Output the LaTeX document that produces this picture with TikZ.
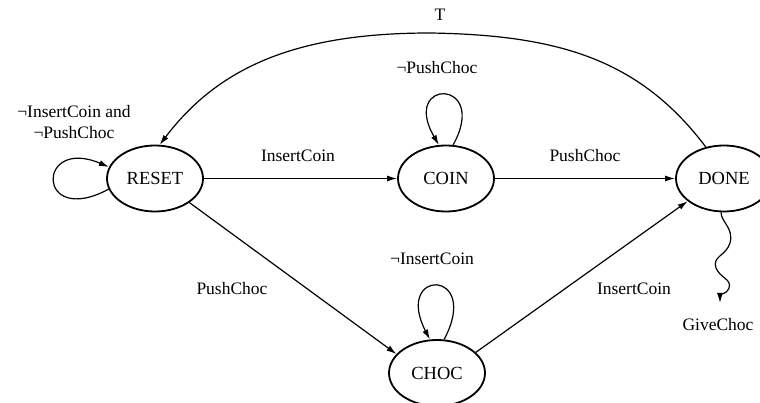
\documentclass[tikz,border=0pt]{standalone}
\usepackage{fontspec}
\setmainfont{Liberation Serif}
\usetikzlibrary{arrows.meta,shapes.geometric}
\tikzset{
  state/.style={draw, ellipse, line width=1.8pt, minimum width=96pt, minimum height=66pt, inner sep=0pt, font=\fontsize{18.5}{20}\selectfont},
  edge/.style={line width=1.2pt, -{Latex[length=10pt,width=6pt]}},
  lbl/.style={font=\fontsize{17.5}{21}\selectfont, inner sep=0pt, align=center}
}
\begin{document}
\begin{tikzpicture}[x=1pt,y=-1pt]
\useasboundingbox[fill=white] (0,0) rectangle (760,403);
\node[state] (RESET) at (155,178.5) {RESET};
\node[state] (COIN) at (446,178.5) {COIN};
\node[state] (DONE) at (724,178.5) {DONE};
\node[state] (CHOC) at (437,373) {CHOC};

\draw[edge] (RESET) -- (COIN);
\draw[edge] (COIN) -- (DONE);
\draw[edge] (RESET.-35) -- (CHOC.155);
\draw[edge] (CHOC.28) -- (DONE.-148);

\draw[edge] (DONE.120) .. controls (640,60) and (560,35) .. (430,33) .. controls (300,33) and (220,65) .. (RESET.82);

\draw[edge] (RESET.193) .. controls (36,228) and (36,136) .. (RESET.166);
\draw[edge] (COIN.78) .. controls (490,78) and (400,78) .. (COIN.102);
\draw[edge] (CHOC.78) .. controls (482,268) and (393,268) .. (CHOC.102);

\coordinate (G) at (720,303);
\draw[edge] (DONE.-95) .. controls (721,222) and (734,228) .. (730,243) .. controls (726,256) and (712,256) .. (716,268) .. controls (720,278) and (732,279) .. (729,288) .. controls (726,295) and (720,294) .. (G);

\node[lbl] (lT) at (440,15) {T};
\node[lbl] (lnp) at (437,68) {¬PushChoc};
\node[lbl] (lrs) at (74,122) {¬InsertCoin and\\¬PushChoc};
\node[lbl] (lic1) at (298,156) {InsertCoin};
\node[lbl] (lpc1) at (585,156) {PushChoc};
\node[lbl] (lni) at (432,259) {¬InsertCoin};
\node[lbl] (lpc2) at (232,289) {PushChoc};
\node[lbl] (lic2) at (634,289) {InsertCoin};
\node[lbl] (lgc) at (718,325) {GiveChoc};
\end{tikzpicture}
\end{document}
